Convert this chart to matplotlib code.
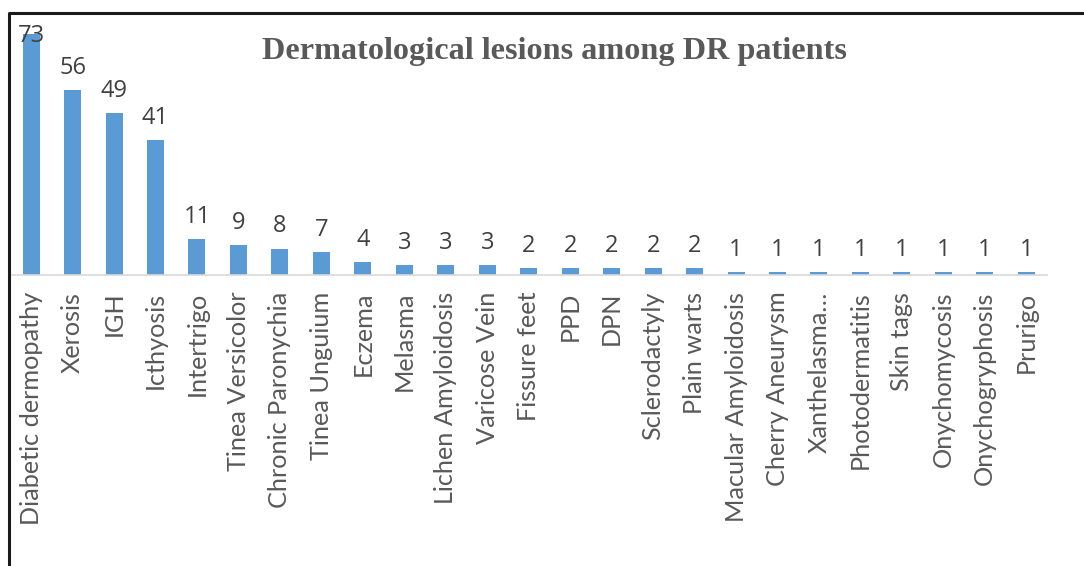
import matplotlib
matplotlib.use("Agg")
import matplotlib.pyplot as plt
from matplotlib.lines import Line2D

categories = ["Diabetic dermopathy", "Xerosis", "IGH", "Icthyosis", "Intertrigo",
              "Tinea Versicolor", "Chronic Paronychia", "Tinea Unguium", "Eczema",
              "Melasma", "Lichen Amyloidosis", "Varicose Vein", "Fissure feet", "PPD",
              "DPN", "Sclerodactyly", "Plain warts", "Macular Amyloidosis",
              "Cherry Aneurysm", "Xanthelasma\u2026", "Photodermatitis", "Skin tags",
              "Onychomycosis", "Onychogryphosis", "Prurigo"]
values = [73, 56, 49, 41, 11, 9, 8, 7, 4, 3, 3, 3, 2, 2, 2, 2, 2, 1, 1, 1, 1, 1, 1, 1, 1]
title = "Dermatological lesions among DR patients"

W, H = 1084, 566
fig = plt.figure(figsize=(W / 100, H / 100), dpi=100)
fig.patch.set_facecolor("white")

base_px = 275
top_px = 11
ymax = 80
ax = fig.add_axes([12 / W, (H - base_px) / H, (1047 - 12) / W, (base_px - top_px) / H])
x = list(range(len(categories)))
ax.bar(x, values, width=0.41, color="#5B9BD5", zorder=2)
ax.set_xlim(-0.46, 24.5)
ax.set_ylim(0, ymax)

for s in ["top", "right", "left"]:
    ax.spines[s].set_visible(False)
ax.spines["bottom"].set_color("#D9D9D9")
ax.spines["bottom"].set_linewidth(1.2)
ax.set_yticks([])
ax.set_xticks(x)
ax.set_xticklabels(categories, rotation=90, fontsize=18.2, color="#595959",
                   family=["Lato", "DejaVu Sans"], va="top", ha="center")
ax.tick_params(axis="x", length=0, pad=12)

for xi, v in zip(x, values):
    ax.text(xi, min(v + 4.9, 70.6), str(v), ha="center", va="baseline",
            fontsize=17, color="#404040", family=["Open Sans", "DejaVu Sans"])

fig.text(554 / W, 1 - 51 / H, title, ha="center", va="center", fontsize=23.2,
         fontweight="bold", color="#595959", family=["Liberation Serif", "DejaVu Serif"])

# outer frame (open toward right and bottom edges)
fig.add_artist(Line2D([9 / W, 9 / W, 1.0], [0.0, 1 - 13 / H, 1 - 13 / H],
                      transform=fig.transFigure, color="#1a1a1a", linewidth=2.2))

fig.savefig("out.png", dpi=100, facecolor="white")
